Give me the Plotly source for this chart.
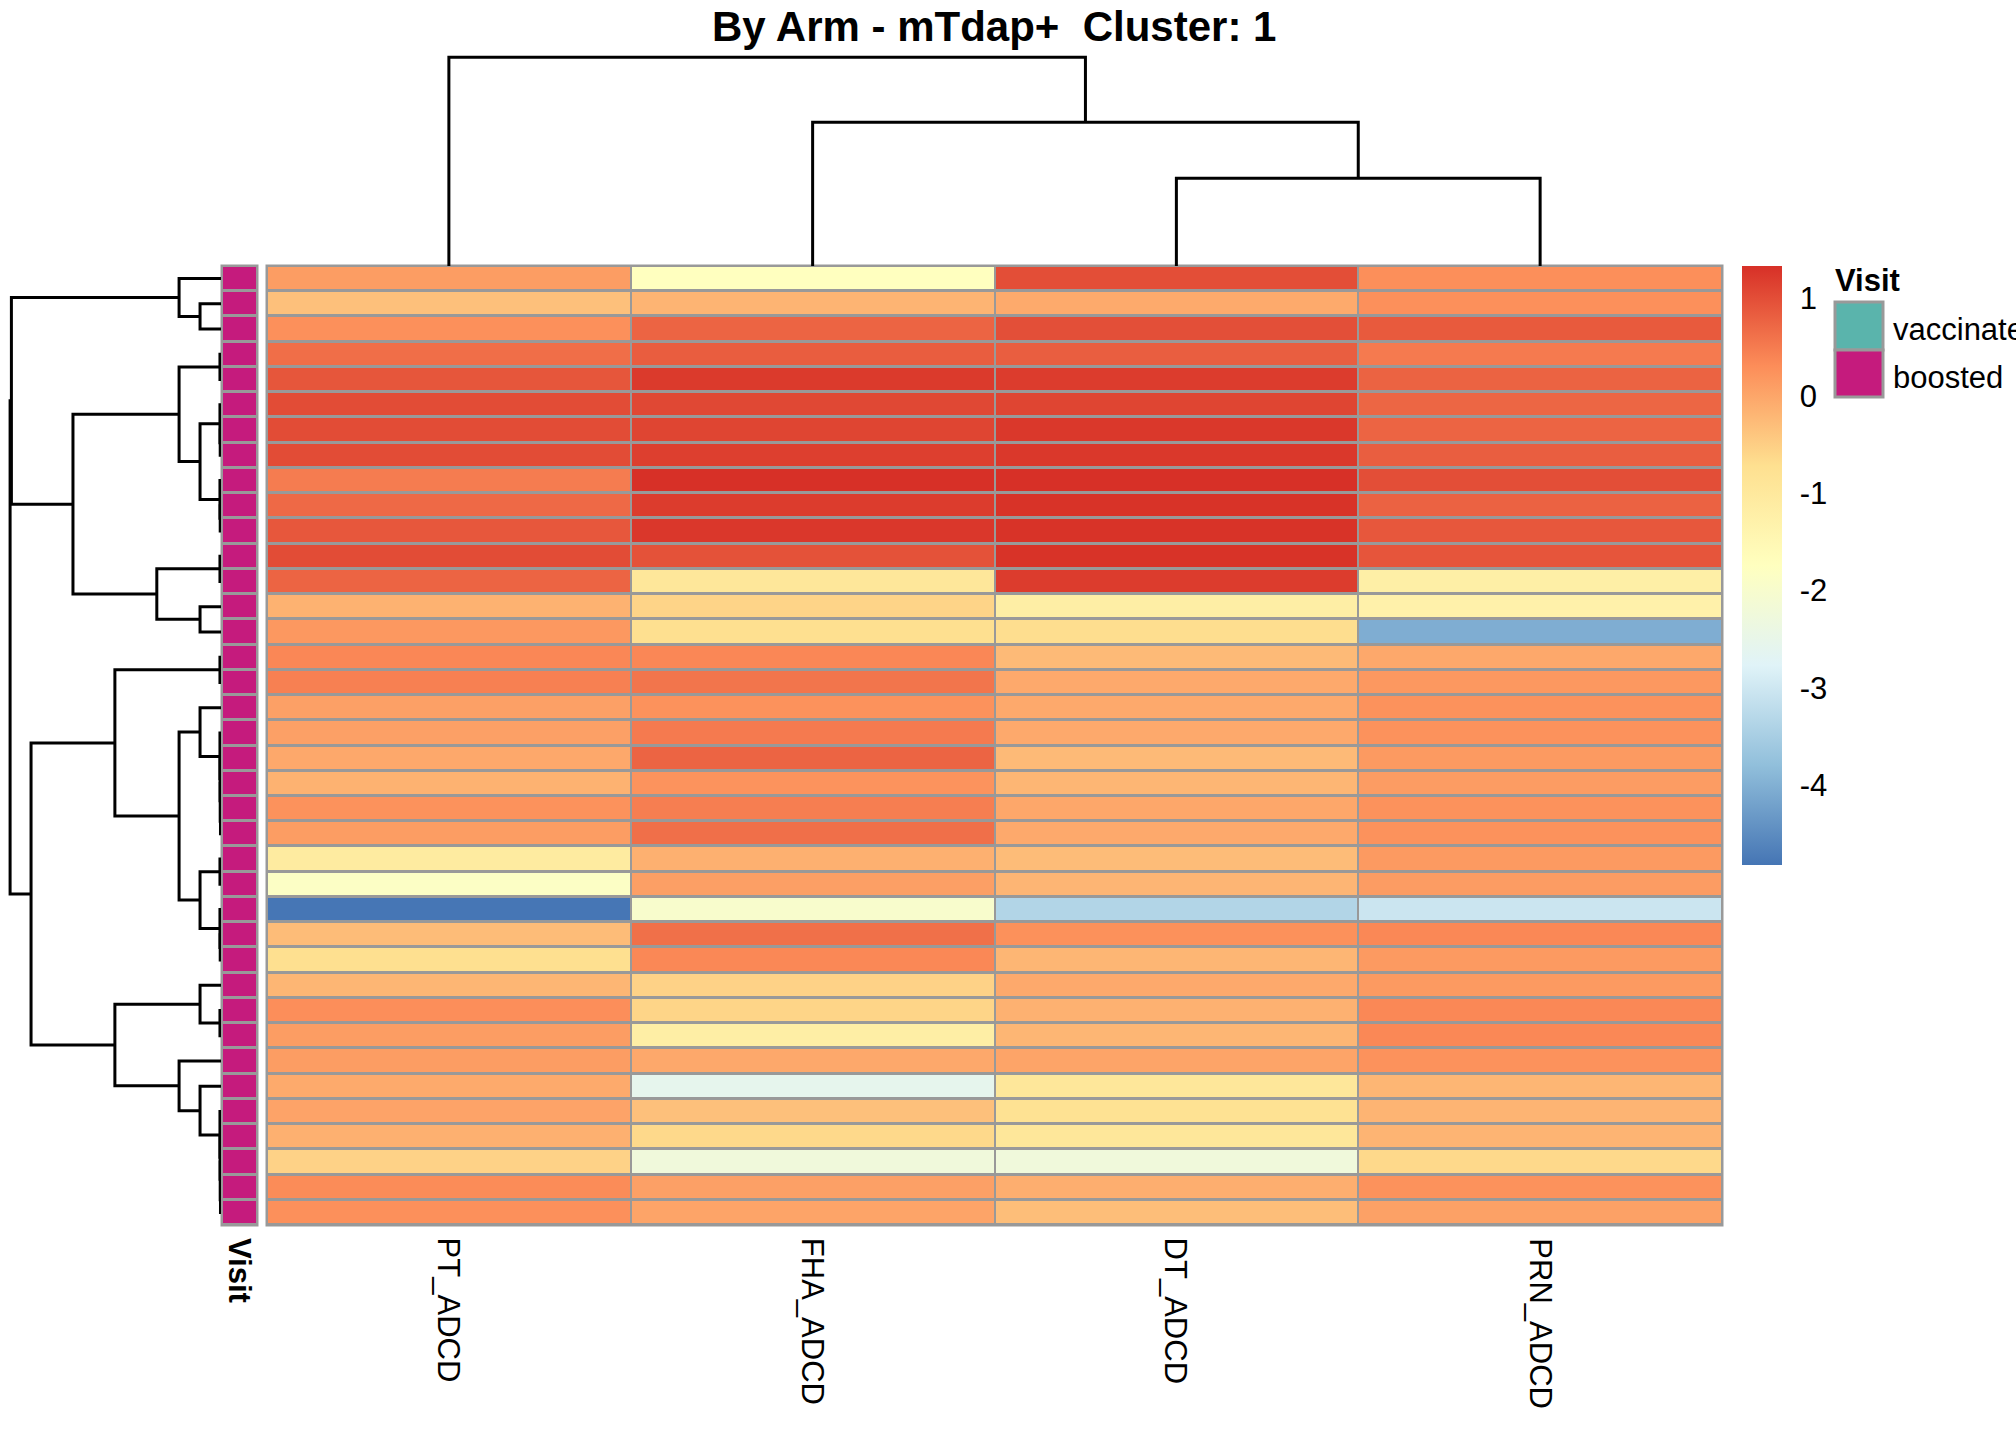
import plotly.graph_objects as go

W, H = 2016, 1440

# ---------------- data ----------------
columns = ["PT_ADCD", "FHA_ADCD", "DT_ADCD", "PRN_ADCD"]

PT = [0.11, -0.33, 0.27, 0.65, 0.91, 1.02, 1.02, 1.02, 0.49, 0.70,
      0.90, 1.02, 0.76, -0.15, 0.17, 0.37, 0.45, 0.07, 0.07, -0.03,
      -0.15, 0.24, 0.11, -1.07, -1.85, -4.80, -0.28, -0.72, -0.20, 0.29,
      0.11, 0.11, -0.05, 0.03, -0.13, -0.55, 0.32, 0.27]
FHA = [-1.75, -0.18, 0.76, 0.83, 1.22, 1.07, 1.10, 1.17, 1.33, 1.20,
       1.25, 0.96, -0.94, -0.57, -0.72, 0.37, 0.57, 0.24, 0.51, 0.76,
       0.23, 0.47, 0.64, -0.13, 0.08, -1.98, 0.63, 0.36, -0.55, -0.58,
       -1.18, -0.03, -2.57, -0.33, -0.63, -2.24, 0.07, 0.02]
DT = [1.00, -0.05, 0.99, 0.82, 1.20, 1.10, 1.24, 1.24, 1.33, 1.30,
      1.30, 1.30, 1.20, -1.18, -0.70, -0.25, -0.04, -0.04, -0.04, -0.25,
      -0.20, -0.02, -0.04, -0.28, -0.19, -3.37, 0.26, -0.20, -0.04, -0.14,
      -0.20, 0.02, -0.94, -0.79, -0.94, -2.24, -0.10, -0.30]
PRN = [0.28, 0.27, 0.87, 0.51, 0.77, 0.74, 0.76, 0.82, 1.00, 0.78,
       0.90, 0.92, -1.20, -1.29, -4.04, -0.03, 0.17, 0.24, 0.24, 0.15,
       0.12, 0.24, 0.24, 0.15, 0.12, -3.04, 0.36, 0.15, 0.15, 0.36,
       0.36, 0.24, -0.20, -0.18, -0.18, -0.63, 0.24, 0.06]

visit = ["boosted"] * 38
visit_levels = ["vaccinated", "boosted"]
visit_colors = ["#5AB4AC", "#C51B7D"]

colorbar_ticks = [1, 0, -1, -2, -3, -4]
zmin, zmax = -4.82, 1.33

# hierarchical clustering trees (leaf = display index, node = (left, right, height))
col_tree = (0, (1, (2, 3, 3.3), 5.4), 7.85)

row_A = (0, (1, 2, 0.8), 1.6)
row_B1 = ((3, 4, 0.04), ((5, (6, 7, 0.03), 0.04), (8, (9, 10, 0.03), 0.04), 0.8), 1.6)
row_B2 = ((11, 12, 0.04), (13, 14, 0.8), 2.45)
row_B = (row_B1, row_B2, 5.65)
row_C1b1 = (17, (18, (19, (20, (21, 22, 0.02), 0.03), 0.035), 0.04), 0.8)
row_C1b2 = ((23, 24, 0.04), (25, (26, 27, 0.03), 0.04), 0.8)
row_C1 = ((15, 16, 0.04), (row_C1b1, row_C1b2, 1.6), 4.05)
row_C2a = (28, (29, 30, 0.04), 0.8)
row_chain = (33, (34, (35, (36, 37, 0.02), 0.03), 0.035), 0.04)
row_C2b = (31, (32, row_chain, 0.8), 1.6)
row_C2 = (row_C2a, row_C2b, 4.05)
row_tree = ((row_A, row_B, 8.0), (row_C1, row_C2, 7.25), 8.05)

# ---------------- helpers ----------------
FONT = "Liberation Sans, Arial, sans-serif"
GRID = "#999999"


def px(x):
    return x / W


def py(y):
    return 1 - y / H


def dendro(tree):
    pos, hts = [], []

    def rec(t):
        if isinstance(t, int):
            return float(t), 0.0
        l, r, h = t
        p1, h1 = rec(l)
        p2, h2 = rec(r)
        pos.extend([p1, p1, p2, p2, None])
        hts.extend([h1, h, h, h2, None])
        return (p1 + p2) / 2, h

    rec(tree)
    return pos, hts


n = len(PT)
z = [[PT[i], FHA[i], DT[i], PRN[i]] for i in range(n)]

colorscale = [[0, "#4575B4"], [1 / 6, "#91BFDB"], [2 / 6, "#E0F3F8"], [3 / 6, "#FFFFBF"],
              [4 / 6, "#FEE090"], [5 / 6, "#FC8D59"], [1, "#D73027"]]

# pixel layout
HX0, HX1 = 267, 1722
HY0, HY1 = 266, 1225
AX0, AX1 = 222, 257
RDX1 = 221
CB_X, CB_T, CB_B = 1742, 266.5, 865

fig = go.Figure()

fig.add_trace(go.Heatmap(
    z=z, x=list(range(len(columns))), y=list(range(n)),
    colorscale=colorscale, zmin=zmin, zmax=zmax,
    xgap=2, ygap=3, hoverinfo="skip",
    colorbar=dict(
        x=px(CB_X), xanchor="left", y=py((CB_T + CB_B) / 2), yanchor="middle",
        thickness=40, thicknessmode="pixels", len=CB_B - CB_T, lenmode="pixels",
        xpad=0, ypad=0, outlinewidth=0,
        tickvals=colorbar_ticks, ticktext=[str(t) for t in colorbar_ticks],
        ticks="outside", ticklen=12, tickcolor="rgba(0,0,0,0)",
        tickfont=dict(family=FONT, size=31, color="black"),
    ),
))

fig.add_trace(go.Heatmap(
    z=[[visit_levels.index(v)] for v in visit], x=[0], y=list(range(n)),
    colorscale=[[0, visit_colors[0]], [1, visit_colors[1]]], zmin=0, zmax=1,
    showscale=False, xgap=2, ygap=3, hoverinfo="skip",
    xaxis="x2", yaxis="y",
))

# row dendrogram
rp, rh = dendro(row_tree)
fig.add_trace(go.Scatter(x=rh, y=rp, mode="lines", line=dict(color="black", width=3),
                         xaxis="x3", yaxis="y", hoverinfo="skip", showlegend=False))
# column dendrogram
cp, ch = dendro(col_tree)
fig.add_trace(go.Scatter(x=cp, y=ch, mode="lines", line=dict(color="black", width=3),
                         xaxis="x", yaxis="y2", hoverinfo="skip", showlegend=False))

hidden = dict(visible=False, showgrid=False, zeroline=False, showticklabels=False)
ROW_PX_PER_UNIT = 26.2
COL_PX_PER_UNIT = 26.6

fig.update_layout(
    width=W, height=H, margin=dict(l=0, r=0, t=0, b=0),
    paper_bgcolor="white", plot_bgcolor="white", showlegend=False,
    xaxis=dict(domain=[px(HX0), px(HX1)], range=[-0.5, len(columns) - 0.5], anchor="y", **hidden),
    yaxis=dict(domain=[py(HY1), py(HY0)], range=[n - 0.5, -0.5], anchor="x", **hidden),
    xaxis2=dict(domain=[px(AX0), px(AX1)], range=[-0.5, 0.5], anchor="y", **hidden),
    xaxis3=dict(domain=[0, px(RDX1)], range=[RDX1 / ROW_PX_PER_UNIT, 0], anchor="y", **hidden),
    yaxis2=dict(domain=[py(HY0), 1], range=[0, HY0 / COL_PX_PER_UNIT], anchor="x", **hidden),
)

shapes = []
for x0, x1 in [(HX0, HX1), (AX0, AX1)]:
    shapes.append(dict(type="rect", xref="paper", yref="paper", layer="below",
                       x0=px(x0 - 1.5), x1=px(x1 + 1.5), y0=py(HY1 + 1.5), y1=py(HY0 - 1.5),
                       fillcolor=GRID, line=dict(width=0)))
# legend keys for Visit
LX0, LX1 = 1835, 1883
LY = [302, 350, 397]
for i, lev in enumerate(visit_levels):
    shapes.append(dict(type="rect", xref="paper", yref="paper",
                       x0=px(LX0), x1=px(LX1), y0=py(LY[i + 1]), y1=py(LY[i]),
                       fillcolor=visit_colors[i], line=dict(color=GRID, width=3)))
fig.update_layout(shapes=shapes)

ann = []
ann.append(dict(text="<b>By Arm - mTdap+  Cluster: 1</b>", xref="paper", yref="paper",
                x=px(994), y=py(26), xanchor="center", yanchor="middle", showarrow=False,
                font=dict(family=FONT, size=42, color="black")))
for i, c in enumerate(columns):
    ann.append(dict(text=c, xref="x", yref="paper", x=i, y=py(1236), xanchor="center",
                    yanchor="top", textangle=90, showarrow=False,
                    font=dict(family=FONT, size=31, color="black")))
ann.append(dict(text="<b>Visit</b>", xref="paper", yref="paper", x=px((AX0 + AX1) / 2), y=py(1236),
                xanchor="center", yanchor="top", textangle=90, showarrow=False,
                font=dict(family=FONT, size=31, color="black")))
ann.append(dict(text="<b>Visit</b>", xref="paper", yref="paper", x=px(1833), y=py(281),
                xanchor="left", yanchor="middle", showarrow=False,
                font=dict(family=FONT, size=31, color="black")))
for i, lev in enumerate(visit_levels):
    ann.append(dict(text=lev, xref="paper", yref="paper", x=px(1891), y=py((LY[i] + LY[i + 1]) / 2 + 4),
                    xanchor="left", yanchor="middle", showarrow=False,
                    font=dict(family=FONT, size=31, color="black")))
fig.update_layout(annotations=ann)

fig.write_html("out.html", config={"displayModeBar": False},
               post_script="document.body.style.margin='0px';document.body.style.overflow='hidden';")
